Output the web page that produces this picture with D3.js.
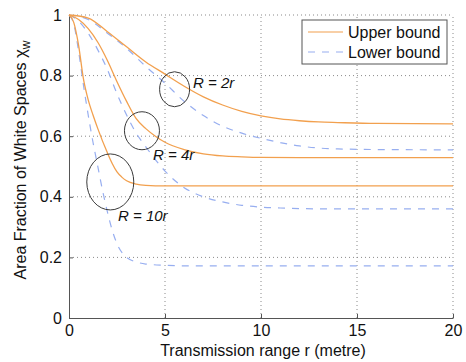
<!DOCTYPE html>
<html>
<head>
<meta charset="utf-8">
<script src="https://cdn.jsdelivr.net/npm/d3@7"></script>
<style>
  body { margin: 0; background: #fff; }
  svg { display: block; font-family: "Liberation Sans", Arial, sans-serif; }
  .grid line { stroke: #8a8a8a; stroke-dasharray: 1,3; stroke-width: 1; }
  .axis path, .axis line { stroke: #555; }
  .axis text { font-size: 16px; fill: #111; }
</style>
</head>
<body>
<div id="chart"></div>
<script>
// ======= DATA =======
const xTicks = [0, 5, 10, 15, 20];
const yTicks = [0, 0.2, 0.4, 0.6, 0.8, 1];

// R = 2r
const xUpper2 = [0, 1, 2, 3, 4, 5, 6, 7, 8, 9, 10, 11, 12, 13, 14, 16, 20];
const yUpper2 = [1, 0.99, 0.945, 0.895, 0.845, 0.805, 0.765, 0.73, 0.703, 0.682, 0.667, 0.657, 0.651, 0.647, 0.645, 0.642, 0.641];
const xLower2 = [0, 1, 2, 3, 4, 5, 6, 7, 8, 9, 10, 11, 12, 13, 14, 16, 20];
const yLower2 = [1, 0.985, 0.94, 0.89, 0.83, 0.775, 0.715, 0.668, 0.633, 0.61, 0.593, 0.579, 0.568, 0.561, 0.558, 0.556, 0.555];

// R = 4r
const xUpper4 = [0, 0.5, 1, 1.5, 2, 2.5, 3, 3.5, 4, 4.5, 5, 6, 7, 8, 9, 10, 12, 20];
const yUpper4 = [1, 0.985, 0.955, 0.91, 0.85, 0.78, 0.715, 0.658, 0.625, 0.6, 0.58, 0.556, 0.542, 0.535, 0.532, 0.53, 0.529, 0.529];
const xLower4 = [0, 0.5, 1, 1.5, 2, 2.5, 3, 3.5, 4, 5, 6, 7, 8, 9, 10, 11, 12, 14, 20];
const yLower4 = [1, 0.98, 0.94, 0.885, 0.82, 0.74, 0.67, 0.61, 0.565, 0.485, 0.43, 0.4, 0.383, 0.372, 0.366, 0.363, 0.361, 0.36, 0.36];

// R = 10r
const xUpper10 = [0, 0.25, 0.5, 0.75, 1, 1.25, 1.5, 2, 2.25, 2.5, 2.75, 3, 3.5, 4, 5, 20];
const yUpper10 = [1, 0.975, 0.9, 0.79, 0.72, 0.67, 0.625, 0.545, 0.51, 0.482, 0.465, 0.453, 0.442, 0.438, 0.436, 0.436];
const xLower10 = [0, 0.25, 0.5, 0.75, 1, 1.25, 1.5, 1.75, 2, 2.25, 2.5, 3, 3.5, 4, 5, 6, 20];
const yLower10 = [1, 0.97, 0.88, 0.77, 0.67, 0.58, 0.5, 0.42, 0.35, 0.29, 0.245, 0.2, 0.185, 0.178, 0.174, 0.172, 0.172];

// annotation ellipses (data coords) and labels
const annoLabels = ["R = 2r", "R = 4r", "R = 10r"];
const annoCx = [5.5, 3.8, 2.15];
const annoCy = [0.755, 0.618, 0.449];

const upperColor = "#f2a04e";
const lowerColor = "#97aef0";

// ======= SVG SETUP =======
const width = 466, height = 362;
const svg = d3.select("#chart").append("svg")
  .attr("width", width).attr("height", height);

const x = d3.scaleLinear().domain([0, 20]).range([69, 453]);
const y = d3.scaleLinear().domain([0, 1]).range([318, 15]);

// grid
const grid = svg.append("g").attr("class", "grid");
grid.selectAll(".gx").data(xTicks.slice(1)).enter().append("line")
  .attr("x1", d => x(d)).attr("x2", d => x(d))
  .attr("y1", y(0)).attr("y2", y(1));
grid.selectAll(".gy").data(yTicks.slice(1)).enter().append("line")
  .attr("x1", x(0)).attr("x2", x(20))
  .attr("y1", d => y(d)).attr("y2", d => y(d));

// axes
svg.append("g").attr("class", "axis")
  .attr("transform", `translate(0,${y(0)})`)
  .call(d3.axisBottom(x).tickValues(xTicks).tickSize(-4).tickPadding(7).tickSizeOuter(0));
svg.append("g").attr("class", "axis")
  .attr("transform", `translate(${x(0)},0)`)
  .call(d3.axisLeft(y).tickValues(yTicks).tickSize(-4).tickPadding(7).tickSizeOuter(0)
    .tickFormat(d => d3.format("")(d)));

// curves
const line = d3.line().x(d => x(d[0])).y(d => y(d[1])).curve(d3.curveMonotoneX);
const zip = (xs, ys) => xs.map((v, i) => [v, ys[i]]);

const lowerSeries = [zip(xLower2, yLower2), zip(xLower4, yLower4), zip(xLower10, yLower10)];
const upperSeries = [zip(xUpper2, yUpper2), zip(xUpper4, yUpper4), zip(xUpper10, yUpper10)];

svg.selectAll(".lower").data(lowerSeries).enter().append("path")
  .attr("class", "lower")
  .attr("d", line)
  .attr("fill", "none")
  .attr("stroke", lowerColor)
  .attr("stroke-width", 1.2)
  .attr("stroke-dasharray", "7,7");

svg.selectAll(".upper").data(upperSeries).enter().append("path")
  .attr("class", "upper")
  .attr("d", line)
  .attr("fill", "none")
  .attr("stroke", upperColor)
  .attr("stroke-width", 1.3);

// ellipses + labels
const ellRx = [15, 17.5, 23.5];
const ellRy = [17.5, 19, 28];
svg.selectAll(".ell").data(annoCx).enter().append("ellipse")
  .attr("cx", d => x(d))
  .attr("cy", (d, i) => y(annoCy[i]))
  .attr("rx", (d, i) => ellRx[i])
  .attr("ry", (d, i) => ellRy[i])
  .attr("fill", "none")
  .attr("stroke", "#3a3a3a")
  .attr("stroke-width", 1);

const labelPos = [[193, 88], [153, 160], [118, 221]];
svg.selectAll(".anno").data(annoLabels).enter().append("text")
  .attr("x", (d, i) => labelPos[i][0])
  .attr("y", (d, i) => labelPos[i][1])
  .attr("font-size", 15)
  .attr("font-style", "italic")
  .attr("fill", "#111")
  .text(d => d);

// axis titles
svg.append("text")
  .attr("x", (x(0) + x(20)) / 2 + 2).attr("y", 356)
  .attr("text-anchor", "middle").attr("font-size", 16).attr("fill", "#111")
  .text("Transmission range r (metre)");

const yt = svg.append("text")
  .attr("transform", "translate(26,160) rotate(-90)")
  .attr("text-anchor", "middle").attr("font-size", 16).attr("fill", "#111");
yt.append("tspan").text("Area Fraction of White Spaces ");
yt.append("tspan").attr("font-size", 17).text("χ");
yt.append("tspan").attr("font-size", 12).attr("dy", 4).text("w");

// legend
const lg = svg.append("g");
lg.append("rect").attr("x", 302).attr("y", 20).attr("width", 145).attr("height", 44)
  .attr("fill", "#fff").attr("stroke", "#555").attr("stroke-width", 1);
const legendItems = [["Upper bound", upperColor, null], ["Lower bound", lowerColor, "7,7"]];
legendItems.forEach((it, i) => {
  const cy = 32 + i * 20;
  lg.append("line").attr("x1", 308).attr("x2", 343).attr("y1", cy).attr("y2", cy)
    .attr("stroke", it[1]).attr("stroke-width", 1.2)
    .attr("stroke-dasharray", it[2]);
  lg.append("text").attr("x", 348).attr("y", cy + 6)
    .attr("font-size", 16).attr("fill", "#111").text(it[0]);
});
</script>
</body>
</html>
